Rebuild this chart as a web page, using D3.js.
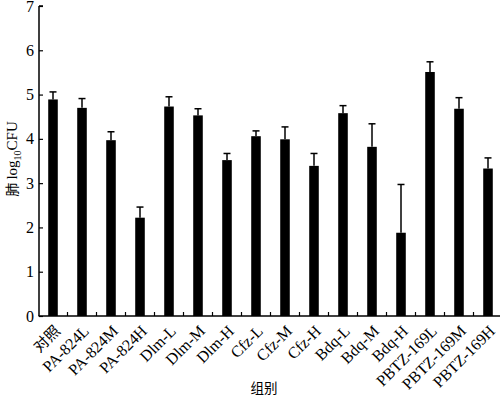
<!DOCTYPE html>
<html><head><meta charset="utf-8">
<script src="https://cdn.jsdelivr.net/npm/d3@7/dist/d3.min.js"></script>
<style>body{margin:0;background:#fff}svg{display:block}</style>
</head><body>
<script>
const categories = ["对照","PA-824L","PA-824M","PA-824H","Dlm-L","Dlm-M","Dlm-H","Cfz-L","Cfz-M","Cfz-H","Bdq-L","Bdq-M","Bdq-H","PBTZ-169L","PBTZ-169M","PBTZ-169H"];
const means = [4.89,4.70,3.97,2.22,4.73,4.53,3.52,4.06,3.99,3.39,4.58,3.82,1.88,5.51,4.68,3.33];
const errUpper = [5.06,4.91,4.16,2.46,4.95,4.68,3.67,4.18,4.27,3.67,4.75,4.34,2.97,5.74,4.93,3.57];
const yTicks = [0,1,2,3,4,5,6,7];

const W=500,H=396;
const svg=d3.select("body").append("svg").attr("width",W).attr("height",H);
const x0=38.5, x1=502.5, yTop=6, yBot=316;
const x=d3.scaleBand().domain(categories).range([x0,x1]).paddingInner(0.67).paddingOuter(0.335);
const y=d3.scaleLinear().domain([0,7]).range([yBot,yTop]);
const serif="'Liberation Serif','Times New Roman',serif";
const cjk="'Noto Sans CJK SC',sans-serif";
const isCJK=s=>/[\u4e00-\u9fff]/.test(s);

// bars
svg.selectAll("rect.bar").data(categories).enter().append("rect")
  .attr("x",d=>x(d)).attr("width",x.bandwidth())
  .attr("y",(d,i)=>y(means[i])).attr("height",(d,i)=>y(0)-y(means[i]))
  .attr("fill","#000");

// error bars
const eg=svg.append("g").attr("stroke","#000").attr("stroke-width",1.5);
categories.forEach((c,i)=>{
  const cx=x(c)+x.bandwidth()/2;
  eg.append("line").attr("x1",cx).attr("x2",cx).attr("y1",y(means[i])).attr("y2",y(errUpper[i]));
  eg.append("line").attr("x1",cx-3.5).attr("x2",cx+3.5).attr("y1",y(errUpper[i])).attr("y2",y(errUpper[i]));
});

// y axis
const ya=svg.append("g").attr("transform",`translate(${x0+0.5},0)`)
  .call(d3.axisRight(y).tickValues(yTicks).tickSize(4).tickFormat(d3.format("d")));
ya.select(".domain").attr("stroke-width",1.5).attr("d",`M0,${yBot}V${yTop}M0,${yTop}h4`);
ya.selectAll(".tick line").attr("stroke-width",1.2);
ya.selectAll(".tick text").attr("x",-5).attr("text-anchor","end").attr("font-family",serif).attr("font-size",16).attr("fill","#000");

// x axis
const xa=svg.append("g").attr("transform",`translate(0,${yBot})`);
xa.append("line").attr("x1",x0).attr("x2",W).attr("y1",0).attr("y2",0).attr("stroke","#000").attr("stroke-width",1.5);
const step=x.step();
categories.slice(1).forEach(c=>{
  const bx=x(c)+x.bandwidth()/2-step/2;
  xa.append("line").attr("x1",bx).attr("x2",bx).attr("y1",0).attr("y2",-4).attr("stroke","#000").attr("stroke-width",1.2);
});
categories.forEach(c=>{
  const cx=x(c)+x.bandwidth()/2;
  xa.append("text").attr("transform",`translate(${cx+8},${16}) rotate(-45)`)
    .attr("text-anchor","end")
    .attr("font-family",isCJK(c)?cjk:serif).attr("font-size",isCJK(c)?15:16).text(c);
});

// axis titles
svg.append("text").attr("x",264).attr("y",393).attr("text-anchor","middle")
  .attr("font-family",cjk).attr("font-size",13.5).text("组别");
const yl=svg.append("text").attr("transform",`translate(17,159) rotate(-90)`)
  .attr("text-anchor","middle").attr("font-family",serif).attr("font-size",15);
yl.append("tspan").attr("font-family",cjk).attr("font-size",14).text("肺 ");
yl.append("tspan").text("log");
yl.append("tspan").attr("font-size",10).attr("dy",4).text("10");
yl.append("tspan").attr("dy",-4).text("CFU");
</script>
</body></html>
